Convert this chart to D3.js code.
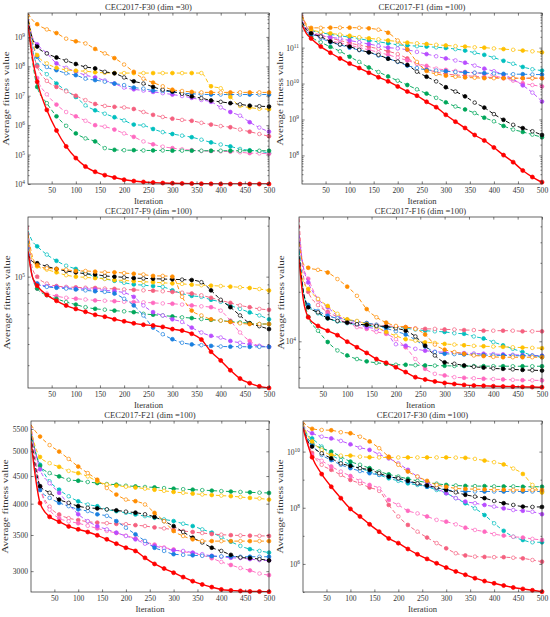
<!DOCTYPE html>
<html><head><meta charset="utf-8">
<script src="https://cdn.jsdelivr.net/npm/d3@7"></script>
<style>
body{margin:0;background:#fff;}
svg{display:block;}
text{font-family:"Liberation Serif","Times New Roman",serif;fill:#333;}
</style>
</head><body>
<svg id="chart" width="550" height="617"></svg>
<script>
// ---------- data ----------
const iterations = [1,10,20,40,60,80,100,120,140,160,180,200,220,240,260,280,300,320,340,360,380,400,420,440,460,480,500];
const xTickValues = [50,100,150,200,250,300,350,400,450,500];
const seriesKeys = ["cyan","rose","hotpink","green","purple","blue","yellow","black","orange","red"];
const seriesColors = {red:"#ff0000",orange:"#ff8c00",yellow:"#ffc000",black:"#000000",blue:"#1a7fe0",
  purple:"#b84cff",cyan:"#00bfbf",rose:"#f5607f",hotpink:"#ff69c0",green:"#00a65a"};

const titles = ["CEC2017-F30 (dim =30)","CEC2017-F1 (dim =100)","CEC2017-F9 (dim =100)",
  "CEC2017-F16 (dim =100)","CEC2017-F21 (dim =100)","CEC2017-F30 (dim =100)"];

const yRangeF30D30 = [1e4, 6.5e9],  yTicksF30D30 = [1e4,1e5,1e6,1e7,1e8,1e9];
const yRangeF1D100 = [1.6e7, 9.2e11], yTicksF1D100 = [1e8,1e9,1e10,1e11];
const yRangeF9D100 = [2.2e4, 2.25e5], yTicksF9D100 = [1e5];
const yRangeF16D100 = [5.2e3, 5.7e4], yTicksF16D100 = [1e4];
const yRangeF21D100 = [2745, 5690], yTicksF21D100 = [3000,3500,4000,4500,5000,5500];
const yRangeF30D100 = [1e5, 1.23e11], yTicksF30D100 = [1e6,1e8,1e10];

const F30_D30 = {
  red:    [2.6e9,2e8,3e7,3.3e6,6.6e5,1.9e5,7.6e4,3.9e4,2.6e4,2.0e4,1.66e4,1.4e4,1.26e4,1.17e4,1.12e4,1.08e4,1.06e4,1.04e4,1.03e4,1.02e4,1.01e4,1e4,1e4,1e4,1e4,1e4,1e4],
  orange: [6.3e9,3.8e9,2.7e9,1.8e9,1.35e9,8.7e8,7.1e8,6e8,3.9e8,2.75e8,1.9e8,1.15e8,6.5e7,3.8e7,2.8e7,2.1e7,1.6e7,1.45e7,1.35e7,1.3e7,1.3e7,1.3e7,1.3e7,1.3e7,1.3e7,1.3e7,1.3e7],
  yellow: [5.6e9,7.9e8,2.4e8,1.26e8,8.9e7,7.6e7,7.1e7,6.8e7,6.3e7,6e7,5.9e7,5.9e7,5.9e7,5.9e7,5.9e7,5.9e7,5.9e7,5.9e7,5.9e7,5.9e7,2.1e7,1.8e7,9.1e6,4.5e6,4e6,3.6e6,3.5e6],
  black:  [3.8e9,8.9e8,4.7e8,2.75e8,2e8,1.55e8,1.2e8,9.5e7,8.5e7,6.5e7,5.8e7,4.2e7,3.1e7,2.6e7,2e7,1.6e7,1.4e7,1.17e7,9.5e6,8.3e6,6.9e6,6.2e6,5.6e6,5.1e6,4.6e6,4.4e6,4.3e6],
  blue:   [3.2e9,6.3e8,2.1e8,9.5e7,7.4e7,5.8e7,5e7,3.8e7,3.4e7,3e7,2.6e7,2.3e7,1.9e7,1.75e7,1.5e7,1.45e7,1.35e7,1.23e7,1.17e7,1.12e7,1.1e7,1.1e7,1.1e7,1.1e7,1.1e7,1.1e7,1.1e7],
  purple: [5e9,1e9,5.6e8,2.8e8,1.26e8,8.9e7,6.6e7,5e7,4.2e7,3.3e7,2.6e7,1.9e7,1.66e7,1.5e7,1.35e7,1.23e7,1.1e7,9.8e6,8.5e6,7.2e6,6.2e6,4e6,2.8e6,2.1e6,1.26e6,8.3e5,6e5],
  cyan:   [4e9,4e8,1.1e8,5.4e7,2.6e7,1.5e7,9.1e6,4.7e6,3.2e6,2.45e6,1.86e6,1.45e6,1.05e6,9.8e5,7.4e5,5.8e5,5e5,4.4e5,3.9e5,3.2e5,2.6e5,2.2e5,1.9e5,1.55e5,1.4e5,1.3e5,1.12e5],
  rose:   [5e9,4e8,1e8,3.2e7,2e7,1.41e7,1e7,7.1e6,5.25e6,4.5e6,4.2e6,4e6,3.55e6,2.8e6,2.24e6,1.9e6,1.66e6,1.51e6,1.41e6,1.2e6,1.05e6,9.3e5,8.5e5,7.1e5,6e5,5e5,4.2e5],
  hotpink:[6.3e9,2.5e8,4e7,1.12e7,5e6,2.8e6,2e6,1.41e6,1e6,8.9e5,7.1e5,5.25e5,4e5,2.8e5,2.24e5,1.86e5,1.66e5,1.51e5,1.41e5,1.32e5,1.32e5,1.29e5,1.26e5,1.2e5,1.12e5,1.1e5,1.07e5],
  green:  [2.5e9,1.6e8,2e7,5.6e6,2e6,9.5e5,5.25e5,3.55e5,2.8e5,1.66e5,1.45e5,1.41e5,1.41e5,1.38e5,1.38e5,1.38e5,1.36e5,1.36e5,1.36e5,1.35e5,1.35e5,1.35e5,1.35e5,1.35e5,1.35e5,1.35e5,1.35e5]
};

const F1_D100 = {
  red:    [4.3e11,2.5e11,1.8e11,1.07e11,7.2e10,5e10,3.6e10,2.7e10,2e10,1.5e10,1.15e10,8.3e9,6e9,4.6e9,3.1e9,2.2e9,1.35e9,8.7e8,5.8e8,3.7e8,2.6e8,1.66e8,1.02e8,6.5e7,3.8e7,2.5e7,1.8e7],
  green:  [5e11,2.8e11,2e11,1.41e11,1.05e11,7.9e10,5.6e10,4e10,2.8e10,2.1e10,1.58e10,1.2e10,9.1e9,6.9e9,5.25e9,4e9,3e9,2.3e9,1.9e9,1.51e9,1.12e9,8.9e8,6.6e8,5.25e8,4.5e8,3.8e8,3.2e8],
  black:  [5.25e11,3.2e11,2.5e11,2.04e11,1.48e11,1.23e11,1.07e11,8.7e10,7.4e10,6.3e10,4.9e10,4.1e10,3.3e10,2.14e10,1.55e10,1.15e10,7.9e9,6e9,4.4e9,2.95e9,2.14e9,1.41e9,9.8e8,7.1e8,5.75e8,4.7e8,3.7e8],
  blue:   [4e11,2.8e11,2.4e11,1.86e11,1.41e11,1.2e11,1e11,8.5e10,7.4e10,6e10,5e10,4e10,3.16e10,2.7e10,2.4e10,2.3e10,2.2e10,2.1e10,2.04e10,2e10,1.95e10,1.9e10,1.86e10,1.82e10,1.82e10,1.78e10,1.78e10],
  orange: [7.9e11,4.5e11,3.55e11,3.55e11,3.6e11,3.6e11,3.6e11,3.55e11,3.45e11,3.16e11,2.6e11,1.58e11,8.9e10,4e10,2.24e10,1.86e10,1.66e10,1.55e10,1.48e10,1.45e10,1.41e10,1.41e10,1.41e10,1.41e10,1.41e10,1.41e10,1.41e10],
  yellow: [7.1e11,4e11,3.16e11,2.75e11,2.5e11,2.3e11,2.14e11,1.95e11,1.82e11,1.7e11,1.58e11,1.48e11,1.38e11,1.32e11,1.26e11,1.2e11,1.15e11,1.1e11,1.07e11,1.02e11,1e11,9.5e10,9.1e10,8.7e10,8.3e10,7.9e10,7.4e10],
  cyan:   [5e11,3.55e11,3e11,2.63e11,2.34e11,2.14e11,1.95e11,1.78e11,1.58e11,1.45e11,1.32e11,1.2e11,1.15e11,1.1e11,1.07e11,1.02e11,9.8e10,9.1e10,8.3e10,7.2e10,6.3e10,5.25e10,4.3e10,3.55e10,2.9e10,2.5e10,2.3e10],
  purple: [5.6e11,3.16e11,2.5e11,2.14e11,1.95e11,1.78e11,1.58e11,1.41e11,1.26e11,1.12e11,1e11,9.5e10,8.7e10,7.6e10,6.6e10,5.75e10,5e10,4.4e10,3.8e10,3.16e10,2.6e10,2.2e10,1.78e10,1.32e10,8.9e9,5.6e9,3.16e9],
  hotpink:[7.9e11,3.55e11,2.5e11,2e11,1.58e11,1.35e11,1.17e11,1e11,8.7e10,7.4e10,6.3e10,5.25e10,4.4e10,3.6e10,3.1e10,2.6e10,2.4e10,2.24e10,2.1e10,2e10,1.86e10,1.66e10,1.41e10,1.2e10,1.02e10,9.1e9,8.3e9],
  rose:   [8.9e11,4e11,2.8e11,2.24e11,1.86e11,1.58e11,1.35e11,1.17e11,1.05e11,9.3e10,7.9e10,6.6e10,5e10,3.55e10,2.5e10,2.1e10,1.86e10,1.74e10,1.66e10,1.58e10,1.51e10,1.48e10,1.45e10,1.41e10,1.41e10,1.41e10,1.41e10]
};

const F9_D100 = {
  red:    [1.41e5,1e5,8.85e4,7.8e4,7.2e4,6.75e4,6.45e4,6.2e4,5.95e4,5.8e4,5.6e4,5.45e4,5.3e4,5.2e4,5.15e4,5.05e4,4.9e4,4.8e4,4.6e4,4.25e4,3.6e4,3.2e4,2.8e4,2.5e4,2.35e4,2.25e4,2.2e4],
  black:  [1.35e5,1.23e5,1.2e5,1.15e5,1.11e5,1.08e5,1.06e5,1.04e5,1.03e5,1.01e5,1e5,9.9e4,9.8e4,9.77e4,9.72e4,9.68e4,9.64e4,9.6e4,9.55e4,9.27e4,8.3e4,7.3e4,6.6e4,5.9e4,5.3e4,5.1e4,4.9e4],
  orange: [1.78e5,1.32e5,1.17e5,1.12e5,1.11e5,1.1e5,1.08e5,1.08e5,1.07e5,1.06e5,1.06e5,1.05e5,1.04e5,1.03e5,1.01e5,1.01e5,1e5,7.6e4,6.3e4,5.9e4,5.6e4,5.5e4,5.4e4,5.3e4,5.25e4,5.25e4,5.25e4],
  yellow: [1.58e5,1.26e5,1.15e5,1.1e5,1.06e5,1.02e5,1e5,9.9e4,9.8e4,9.7e4,9.55e4,9.5e4,9.4e4,9.33e4,9.27e4,9.2e4,9.12e4,9.06e4,8.97e4,8.9e4,8.85e4,8.8e4,8.73e4,8.65e4,8.57e4,8.45e4,8.28e4],
  cyan:   [1.86e5,1.62e5,1.51e5,1.35e5,1.24e5,1.16e5,1.11e5,1.05e5,1e5,9.7e4,9.45e4,9.2e4,9e4,8.9e4,8.8e4,8.7e4,8.3e4,7.95e4,7.7e4,7.6e4,7.3e4,7.1e4,6.75e4,6.45e4,6.15e4,5.9e4,5.6e4],
  rose:   [2e5,1.12e5,1e5,9.1e4,8.8e4,8.7e4,8.65e4,8.6e4,8.57e4,8.5e4,8.47e4,8.4e4,8.36e4,8.3e4,8.26e4,8.2e4,8.13e4,8.04e4,7.95e4,7.76e4,7.5e4,7.24e4,7e4,6.76e4,6.6e4,6.45e4,6.37e4],
  hotpink:[1.58e5,1e5,8.5e4,7.95e4,7.67e4,7.5e4,7.41e4,7.33e4,7.24e4,7.21e4,7.16e4,7.11e4,7.08e4,7.05e4,7e4,6.95e4,6.92e4,6.84e4,6.76e4,6.68e4,6.6e4,6.3e4,5.5e4,4.68e4,4.17e4,3.9e4,3.85e4],
  blue:   [1.78e5,1e5,9.1e4,8.7e4,8.6e4,8.5e4,8.4e4,8.3e4,8.2e4,8.13e4,7.95e4,7.4e4,6.76e4,5.9e4,5e4,4.57e4,4.27e4,4.07e4,3.98e4,3.94e4,3.9e4,3.87e4,3.86e4,3.86e4,3.85e4,3.85e4,3.85e4],
  purple: [1.51e5,1e5,9.1e4,8.8e4,8.7e4,8.6e4,8.5e4,8.47e4,8.4e4,8.3e4,8.2e4,8.04e4,7.6e4,6.76e4,6.17e4,5.9e4,5.6e4,5.4e4,5e4,4.68e4,4.47e4,4.37e4,4.17e4,4.07e4,3.98e4,3.9e4,3.85e4],
  green:  [1.41e5,1e5,8.5e4,7.76e4,7.4e4,7.08e4,6.84e4,6.6e4,6.46e4,6.38e4,6.3e4,6.24e4,6.17e4,6.03e4,5.96e4,5.9e4,5.82e4,5.75e4,5.69e4,5.62e4,5.56e4,5.5e4,5.43e4,5.37e4,5.31e4,5.25e4,5.25e4]
};

const F16_D100 = {
  red:    [3.16e4,1.78e4,1.4e4,1.24e4,1.16e4,1.09e4,9.95e3,9.2e3,8.5e3,7.8e3,7.4e3,6.95e3,6.5e3,6.05e3,5.86e3,5.7e3,5.58e3,5.5e3,5.43e3,5.38e3,5.36e3,5.33e3,5.31e3,5.3e3,5.28e3,5.27e3,5.25e3],
  orange: [3.98e4,2.95e4,2.8e4,2.72e4,2.62e4,2.39e4,2.15e4,1.89e4,1.57e4,1.4e4,1.3e4,1.24e4,1.22e4,1.19e4,1.1e4,9.55e3,8.9e3,8.6e3,8.4e3,8.2e3,8.13e3,8.04e3,8e3,8e3,8e3,8e3,8e3],
  rose:   [5.6e4,2.5e4,2e4,1.66e4,1.51e4,1.41e4,1.35e4,1.32e4,1.29e4,1.26e4,1.24e4,1.23e4,1.22e4,1.2e4,1.19e4,1.19e4,1.18e4,1.18e4,1.17e4,1.17e4,1.16e4,1.16e4,1.16e4,1.16e4,1.15e4,1.15e4,1.15e4],
  cyan:   [3.55e4,2e4,1.66e4,1.48e4,1.38e4,1.32e4,1.29e4,1.26e4,1.24e4,1.23e4,1.22e4,1.22e4,1.2e4,1.18e4,1.16e4,1.15e4,1.14e4,1.12e4,1.11e4,1.07e4,1.04e4,9.9e3,9.45e3,9e3,8.6e3,8.2e3,8e3],
  yellow: [3.16e4,2.3e4,2.08e4,1.81e4,1.64e4,1.47e4,1.36e4,1.33e4,1.27e4,1.22e4,1.14e4,1.08e4,1.03e4,1.01e4,9.86e3,9.77e3,9.64e3,9.55e3,9.46e3,9.38e3,9.33e3,9.29e3,9.25e3,9.2e3,9.16e3,9.12e3,9.08e3],
  black:  [3.3e4,2e4,1.61e4,1.5e4,1.38e4,1.33e4,1.3e4,1.27e4,1.26e4,1.24e4,1.23e4,1.2e4,1.16e4,1.07e4,9.4e3,8.2e3,7.45e3,7.3e3,7.13e3,7e3,6.92e3,6.84e3,6.8e3,6.75e3,6.7e3,6.67e3,6.64e3],
  blue:   [3.98e4,2e4,1.66e4,1.53e4,1.43e4,1.38e4,1.35e4,1.32e4,1.29e4,1.26e4,1.2e4,1.15e4,1.1e4,1.02e4,9.3e3,8.6e3,8.4e3,8.36e3,8.32e3,8.28e3,8.24e3,8.22e3,8.2e3,8.18e3,8.16e3,8.15e3,8.13e3],
  purple: [4.47e4,2.82e4,2.28e4,1.81e4,1.61e4,1.43e4,1.33e4,1.27e4,1.22e4,1.19e4,1.14e4,9.6e3,9.4e3,9e3,8.77e3,8.65e3,8.57e3,8.51e3,8.47e3,8.43e3,8.4e3,8.36e3,8.32e3,8.28e3,8.24e3,8.2e3,8.17e3],
  hotpink:[4.17e4,2.82e4,2.4e4,1.78e4,1.48e4,1.36e4,1.3e4,1.22e4,1.19e4,1.14e4,1.11e4,1.03e4,9.2e3,7.8e3,6.8e3,6.34e3,6.2e3,6.05e3,6e3,5.96e3,5.92e3,5.89e3,5.86e3,5.83e3,5.8e3,5.79e3,5.78e3],
  green:  [3.55e4,2e4,1.41e4,1.16e4,9.9e3,8.8e3,8.2e3,7.8e3,7.55e3,7.4e3,7.3e3,7.2e3,7.2e3,7.16e3,7.13e3,7.11e3,7.1e3,7.08e3,7.07e3,7.07e3,7.06e3,7.06e3,7.06e3,7.05e3,7.05e3,7.05e3,7.05e3]
};

const F21_D100 = {
  red:    [5220,4500,4010,3782,3705,3631,3585,3545,3495,3436,3373,3315,3270,3175,3094,3034,2980,2925,2875,2835,2803,2775,2764,2757,2752,2750,2748],
  green:  [5400,5000,4700,4557,4493,4430,4411,4387,4368,4349,4337,4318,4305,4295,4288,4275,4264,4255,4246,4238,4229,4220,4212,4205,4198,4192,4187],
  yellow: [5480,5100,4880,4754,4680,4600,4557,4493,4400,4340,4320,4300,4285,4265,4245,4225,4205,4190,4175,4160,4150,4140,4130,4115,4100,4090,4070],
  orange: [5600,5450,5325,5135,4995,4840,4686,4557,4430,4276,4159,4071,4043,3986,3846,3713,3560,3485,3436,3412,3410,3410,3410,3410,3410,3410,3410],
  black:  [5330,4700,4310,4190,4071,4014,3958,3930,3920,3904,3888,3866,3850,3823,3780,3713,3635,3545,3460,3390,3315,3270,3216,3180,3172,3158,3140],
  blue:   [5300,4600,4240,4100,4014,3958,3904,3877,3823,3797,3713,3610,3510,3412,3315,3270,3225,3216,3210,3203,3198,3195,3192,3190,3190,3190,3190],
  purple: [5500,5000,4630,4364,4190,3986,3823,3713,3635,3585,3535,3485,3436,3373,3340,3307,3279,3270,3247,3225,3203,3190,3176,3172,3158,3145,3140],
  cyan:   [5450,5000,4722,4399,4246,4128,4041,3985,3957,3902,3874,3847,3820,3793,3767,3740,3714,3672,3636,3585,3535,3470,3402,3340,3295,3270,3247],
  rose:   [5450,4800,4300,3950,3820,3760,3730,3705,3690,3681,3670,3665,3650,3636,3615,3600,3580,3560,3545,3530,3515,3505,3498,3493,3490,3487,3485],
  hotpink:[5600,4900,4300,3900,3760,3710,3680,3640,3600,3560,3530,3490,3450,3400,3360,3320,3290,3260,3240,3210,3170,3120,3080,3040,3010,2970,2950]
};

const F30_D100 = {
  red:    [6.8e10,2e10,6.3e9,1.58e9,5.6e8,2.2e8,9.1e7,4.9e7,2.57e7,1.41e7,8.1e6,5.5e6,3.4e6,2.2e6,1.51e6,1.05e6,7.4e5,5.4e5,4.1e5,3.1e5,2.45e5,2.04e5,1.7e5,1.45e5,1.29e5,1.15e5,1.02e5],
  orange: [1.17e11,7.9e10,6.5e10,5.9e10,5.75e10,4.9e10,4.5e10,3.4e10,2.3e10,1.32e10,6.6e9,3.4e9,1.95e9,1.29e9,9.1e8,6.5e8,5.6e8,4.9e8,4.7e8,4.6e8,4.5e8,4.4e8,4.4e8,4.3e8,4.3e8,4.3e8,4.3e8],
  yellow: [1e11,4e10,2.3e10,1.15e10,7.6e9,7.2e9,7.2e9,6.6e9,6.3e9,6.2e9,6.2e9,6.2e9,6.2e9,6.2e9,6.2e9,6.2e9,6.2e9,6.1e9,6e9,5.5e9,4.8e9,4.2e9,3.5e9,2.5e9,1.6e9,6.5e8,3.5e8],
  green:  [7.9e10,3.2e10,2e10,1.32e10,1e10,6.6e9,4.4e9,3.4e9,2.57e9,1.95e9,1.55e9,1.29e9,1.07e9,9.1e8,7.9e8,7.2e8,6.5e8,6.2e8,6e8,5.9e8,5.9e8,5.75e8,5.75e8,5.75e8,5.6e8,5.6e8,5.6e8],
  black:  [7.1e10,2.5e10,1.51e10,8.7e9,5.75e9,3.8e9,3.1e9,2.57e9,2.24e9,1.7e9,1.29e9,1.12e9,9.1e8,7.4e8,6.2e8,5.25e8,4.3e8,3.55e8,2.9e8,2.5e8,2.2e8,1.74e8,1.45e8,1.26e8,1.1e8,1.07e8,1.07e8],
  blue:   [7.9e10,2.8e10,1.74e10,7.6e9,5e9,3.4e9,2.57e9,2.04e9,1.7e9,1.48e9,1.29e9,1.07e9,8.5e8,7.1e8,5.6e8,4.9e8,4.3e8,4e8,3.8e8,3.8e8,3.8e8,3.8e8,3.8e8,3.8e8,3.8e8,3.8e8,3.8e8],
  purple: [8.9e10,5.6e10,4.5e10,3.4e10,2.95e10,2.4e10,1.82e10,1.38e10,1.15e10,7.9e9,5.75e9,3.8e9,2.24e9,1.29e9,8.1e8,4.9e8,3.3e8,2.2e8,1.66e8,1.45e8,1.26e8,1.1e8,9.5e7,8.3e7,7.8e7,7.2e7,5.9e7],
  cyan:   [8.9e10,4e10,2.95e10,1.51e10,7.6e9,5e9,3.4e9,2.57e9,1.95e9,1.48e9,1.12e9,9.1e8,7.4e8,6.5e8,5.6e8,4.3e8,3.3e8,2.2e8,1.45e8,9.5e7,5.5e7,2.8e7,1.51e7,9.3e6,7.1e6,5.9e6,5.9e6],
  hotpink:[1e11,2e10,7.6e9,4.7e9,2.95e9,1.95e9,1.35e9,9.1e8,6.5e8,4.9e8,1.91e8,1.26e8,7.8e7,6.3e7,4.9e7,3.7e7,3.2e7,2.57e7,1.95e7,1.62e7,1.41e7,1.15e7,1.02e7,9.3e6,8.7e6,7.8e6,7.1e6],
  rose:   [1.12e11,2.5e10,8.9e9,3.4e9,2.24e9,1.48e9,9.8e8,7.4e8,5.25e8,4e8,1.26e8,4.9e7,2.45e7,1.41e7,8.7e6,5.5e6,3.6e6,2.4e6,2e6,1.82e6,1.78e6,1.74e6,1.74e6,1.66e6,1.58e6,1.38e6,1.2e6]
};

// ---------- layout ----------
const panels = [
  {title:titles[0], data:F30_D30,  yDomain:yRangeF30D30,  yTicks:yTicksF30D30,  box:[28,269,13,184],  labOff:19, minor:"decade"},
  {title:titles[1], data:F1_D100,  yDomain:yRangeF1D100,  yTicks:yTicksF1D100,  box:[302,542,13,184], labOff:19, minor:"decade"},
  {title:titles[2], data:F9_D100,  yDomain:yRangeF9D100,  yTicks:yTicksF9D100,  box:[28,269,217,388], labOff:18, minor:"decade"},
  {title:titles[3], data:F16_D100, yDomain:yRangeF16D100, yTicks:yTicksF16D100, box:[299,542,217,388],labOff:15, minor:"decade"},
  {title:titles[4], data:F21_D100, yDomain:yRangeF21D100, yTicks:yTicksF21D100, box:[31,269,421,592], labOff:23, minor:"none"},
  {title:titles[5], data:F30_D100, yDomain:yRangeF30D100, yTicks:yTicksF30D100, box:[303,542,421,592],labOff:20, minor:"odd"}
];

const svg = d3.select("#chart");
const axisColor = "#262626";
const TICK = 2.6, MINOR = 1.5;

function minorTicks(dom, mode){
  const lo = Math.floor(Math.log10(dom[0])), hi = Math.ceil(Math.log10(dom[1]));
  const out = [];
  for(let e=lo;e<=hi;e++){
    if(mode==="decade"){ for(let m=2;m<=9;m++){ const v=m*Math.pow(10,e); if(v>=dom[0]&&v<=dom[1]) out.push(v);} }
    else if(mode==="odd"){ const v=Math.pow(10,e); if(e%2!==0 && v>=dom[0]&&v<=dom[1]) out.push(v); }
  }
  return out;
}

panels.forEach((p, pi) => {
  const [L,R,T,B] = p.box;
  const x = d3.scaleLinear().domain([1,500]).range([L,R]);
  const y = d3.scaleLog().domain(p.yDomain).range([B,T]);
  const g = svg.append("g");
  const isPow = p.minor !== "none";

  const cid = "clip"+pi;
  svg.append("defs").append("clipPath").attr("id",cid)
    .append("rect").attr("x",L).attr("y",T).attr("width",R-L).attr("height",B-T);

  // series
  const line = d3.line().x((d,i)=>x(iterations[i])).y(d=>y(d)).curve(d3.curveMonotoneX);
  seriesKeys.forEach(key => {
    const vals = p.data[key];
    const col = seriesColors[key];
    const isRed = key === "red";
    g.append("path").attr("d", line(vals)).attr("clip-path",`url(#${cid})`)
      .attr("fill","none").attr("stroke",col)
      .attr("stroke-width", isRed ? 1.4 : 0.95)
      .attr("stroke-dasharray", isRed ? null : "4,2.4");
    const pts = vals.map((v,i)=>({it:iterations[i], v})).filter(d=>d.it>=20);
    g.selectAll(null).data(pts).enter().append("circle")
      .attr("cx", d=>x(d.it)).attr("cy", d=>y(d.v))
      .attr("r", d => isRed ? 2.0 : ((d.it/20)%2===1 ? 1.9 : 1.8))
      .attr("fill", d => isRed || (d.it/20)%2===1 ? col : "#fff")
      .attr("stroke", col).attr("stroke-width", 0.7);
  });

  // box
  g.append("rect").attr("x",L).attr("y",T).attr("width",R-L).attr("height",B-T)
    .attr("fill","none").attr("stroke",axisColor).attr("stroke-width",0.7);

  const styleAxis = sel => { sel.attr("color",axisColor); sel.select(".domain").remove();
    sel.selectAll(".tick line").attr("stroke-width",0.6); };

  // x axes
  const xb = g.append("g").attr("transform",`translate(0,${B})`)
    .call(d3.axisBottom(x).tickValues(xTickValues).tickSize(-TICK).tickPadding(4).tickFormat(d3.format("d")));
  styleAxis(xb);
  xb.selectAll("text").attr("font-family","Liberation Serif").attr("font-size","7.6px").attr("fill","#333").attr("dy","0.71em");
  const xt = g.append("g").attr("transform",`translate(0,${T})`)
    .call(d3.axisTop(x).tickValues(xTickValues).tickSize(-TICK).tickFormat(""));
  styleAxis(xt);

  // y axes
  const yl = g.append("g").attr("transform",`translate(${L},0)`)
    .call(d3.axisLeft(y).tickValues(p.yTicks).tickSize(-TICK).tickPadding(3).tickFormat(d3.format("d")));
  styleAxis(yl);
  yl.selectAll("text").attr("font-family","Liberation Serif").attr("font-size","7.6px").attr("fill","#333");
  if(isPow){
    yl.selectAll(".tick text").each(function(d){
      const t = d3.select(this); t.text("");
      t.append("tspan").text("10");
      t.append("tspan").attr("dy","-3").attr("font-size","5.4px").text(Math.round(Math.log10(d)));
    });
  }
  const yr = g.append("g").attr("transform",`translate(${R},0)`)
    .call(d3.axisRight(y).tickValues(p.yTicks).tickSize(-TICK).tickFormat(""));
  styleAxis(yr);
  const mt = minorTicks(p.yDomain, p.minor);
  if(mt.length){
    const ml = g.append("g").attr("transform",`translate(${L},0)`)
      .call(d3.axisLeft(y).tickValues(mt).tickSize(-MINOR).tickFormat(""));
    styleAxis(ml);
    const mr = g.append("g").attr("transform",`translate(${R},0)`)
      .call(d3.axisRight(y).tickValues(mt).tickSize(-MINOR).tickFormat(""));
    styleAxis(mr);
  }

  // labels
  g.append("text").attr("x",(L+R)/2).attr("y",T-3).attr("text-anchor","middle")
    .attr("font-size","8.6px").text(p.title);
  g.append("text").attr("x",(L+R)/2).attr("y",B+20).attr("text-anchor","middle")
    .attr("font-size","8.6px").text("Iteration");
  g.append("text").attr("transform",`translate(${L-p.labOff},${(T+B)/2}) rotate(-90)`)
    .attr("text-anchor","middle").attr("font-size","8.6px")
    .attr("textLength",94).attr("lengthAdjust","spacingAndGlyphs")
    .text("Average fitness value");
});
</script>
</body></html>
